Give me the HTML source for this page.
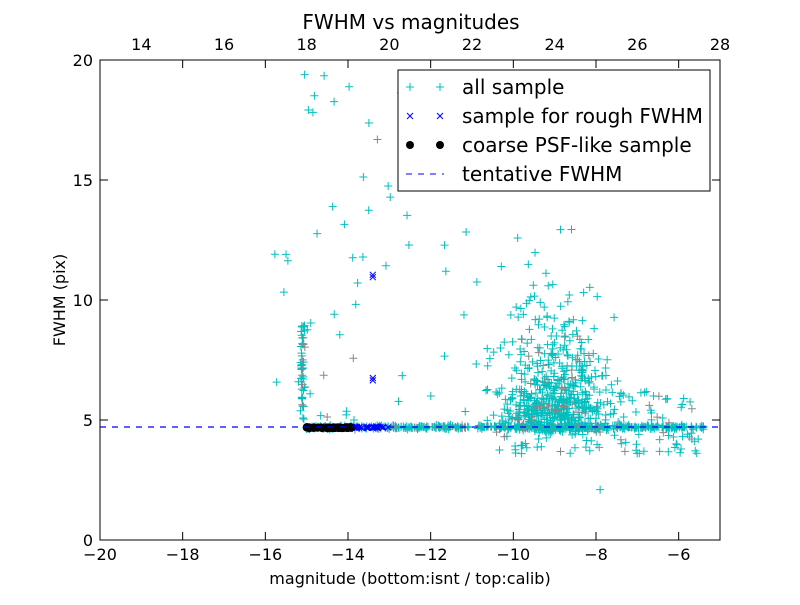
<!DOCTYPE html>
<html><head><meta charset="utf-8"><style>
body{margin:0;background:#fff;}
svg{font-family:"DejaVu Sans","Liberation Sans",sans-serif;}
</style></head><body>
<svg id="s" width="800" height="600" xmlns="http://www.w3.org/2000/svg">
<rect width="800" height="600" fill="#fff"/>
<g id="pts"></g>
<line x1="100" y1="427" x2="720" y2="427" stroke="#0000ff" stroke-width="1.2" stroke-dasharray="6,6"/>
<rect x="100" y="60" width="620" height="480" fill="none" stroke="#000" stroke-width="1"/>
<g id="ticks" stroke="#000" stroke-width="1"></g>
<g id="labels" font-size="16" fill="#000"></g>
<text x="411" y="29" font-size="20" text-anchor="middle">FWHM vs magnitudes</text>
<text x="410" y="584" font-size="16" text-anchor="middle">magnitude (bottom:isnt / top:calib)</text>
<text x="65" y="300" font-size="16" text-anchor="middle" transform="rotate(-90 65 300)">FWHM (pix)</text>
<g>
<rect x="398" y="70" width="312" height="121" fill="#fff" stroke="#000"/>
<g stroke="#00bfbf" stroke-width="1"><path d="M406 87h8M410 83v8M436 87h8M440 83v8"/></g>
<g stroke="#0000ff" stroke-width="1"><path d="M407 113l6 6M413 113l-6 6M437 113l6 6M443 113l-6 6"/></g>
<circle cx="410" cy="145" r="4" fill="#000"/><circle cx="440" cy="145" r="4" fill="#000"/>
<line x1="406" y1="174" x2="444" y2="174" stroke="#0000ff" stroke-dasharray="6,6"/>
<g font-size="20"><text x="462" y="94">all sample</text><text x="462" y="123">sample for rough FWHM</text><text x="462" y="152">coarse PSF-like sample</text><text x="462" y="181">tentative FWHM</text></g>
</g>
</svg>
<script>
function X(m){return 100+(m+20)*620/15;}
function Y(v){return 540-v*24;}
var seed=11;function r(){seed=(seed*16807)%2147483647;return seed/2147483647;}
function g(){return (r()+r()+r()-1.5)/1.5;}
var P=document.getElementById("pts"),h="";
function plus(m,v,c){var x=X(m),y=Y(v);h+='<path d="M'+(x-4)+' '+y+'h8M'+x+' '+(y-4)+'v8" stroke="'+c+'" stroke-width="1" fill="none"/>';}
function cross(m,v){var x=X(m),y=Y(v);h+='<path d="M'+(x-3)+' '+(y-3)+'l6 6M'+(x+3)+' '+(y-3)+'l-6 6" stroke="#0000ff" stroke-width="1" fill="none"/>';}
function col(){return r()<0.12?"#888":"#00bfbf";}
var i;
for(i=0;i<450;i++){var m=-15+r()*9.6;plus(m,4.7+g()*0.12,col());}
for(i=0;i<50;i++){plus(-15.1+g()*0.08,4.8+r()*4.2,col());}
for(i=0;i<45;i++){var m=-15.8+r()*3.3;plus(m,5+Math.pow(r(),1.3)*14.5,col());}
for(i=0;i<550;i++){var m=-9+g()*1.8,v=4.5+Math.abs(g())*4.5+(r()<0.25?r()*4.5:0);plus(m,v,col());}
for(i=0;i<150;i++){var m=-10.5+r()*5,v=3.6+r()*2.6;plus(m,v,col());}
for(i=0;i<35;i++){var m=-12+r()*3.5,v=4.8+r()*10;plus(m,v,col());}
plus(-7.9,2.1,"#00bfbf");plus(-9.8,3.6,"#00bfbf");
for(i=0;i<60;i++){cross(-14.9+r()*1.9,4.7+g()*0.05);}
cross(-13.4,11.05);cross(-13.4,10.95);cross(-13.4,6.75);cross(-13.4,6.65);
for(i=0;i<40;i++){var x=X(-15+r()*1.1),y=Y(4.68+g()*0.05);h+='<circle cx="'+x+'" cy="'+y+'" r="4" fill="#000"/>';}
P.innerHTML=h;
var T="",L="";
for(var m=-20;m<=-6;m+=2){var x=X(m);T+='<line x1="'+x+'" y1="540" x2="'+x+'" y2="532"/><line x1="'+x+'" y1="60" x2="'+x+'" y2="68"/>';
L+='<text x="'+x+'" y="560" text-anchor="middle">'+(m<0?'\u2212'+(-m):m)+'</text>';}
for(var t=14;t<=28;t+=2){var x=100+(t-13)*620/15;L+='<text x="'+x+'" y="50" text-anchor="middle">'+t+'</text>';}
for(var v=0;v<=20;v+=5){var y=Y(v);T+='<line x1="100" y1="'+y+'" x2="108" y2="'+y+'"/><line x1="720" y1="'+y+'" x2="712" y2="'+y+'"/>';
L+='<text x="93" y="'+(y+6)+'" text-anchor="end">'+v+'</text>';}
document.getElementById("ticks").innerHTML=T;
document.getElementById("labels").innerHTML=L;
</script>
</body></html>
